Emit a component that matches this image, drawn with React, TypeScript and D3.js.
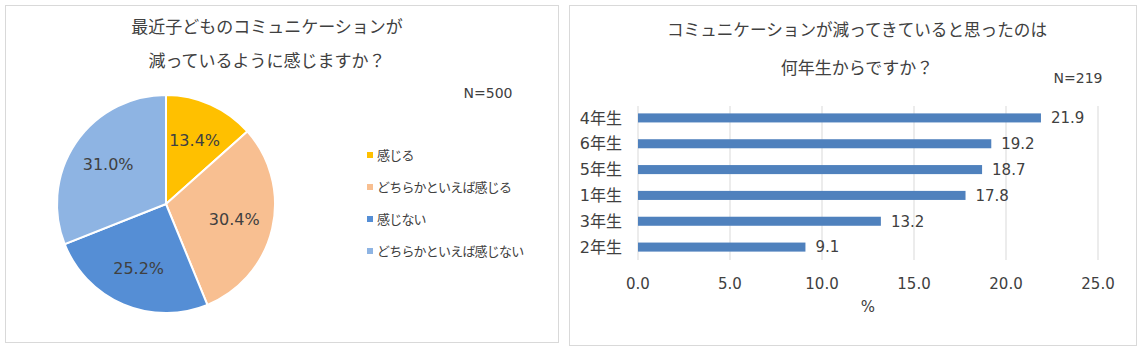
import React from "react";
import * as d3 from "d3";

const pieCategories = ["感じる", "どちらかといえば感じる", "感じない", "どちらかといえば感じない"];
const pieValues = [13.4, 30.4, 25.2, 31.0];
const pieColors = ["#FFC000", "#F8BF91", "#558ED5", "#8EB4E3"];

const barCategories = ["4年生", "6年生", "5年生", "1年生", "3年生", "2年生"];
const barValues = [21.9, 19.2, 18.7, 17.8, 13.2, 9.1];
const barTicks = [0, 5, 10, 15, 20, 25];

const FONT = "'Noto Sans CJK JP', 'Noto Sans', sans-serif";
const NUMFONT = "'DejaVu Sans', 'Noto Sans CJK JP', sans-serif";
const TXT = "#404040";

export default function App() {
  const cx = 166, cy = 204, R = 109;
  const pie = d3.pie<number>().sort(null).value((d) => d)(pieValues);
  const arc = d3.arc<d3.PieArcDatum<number>>().innerRadius(0).outerRadius(R);
  const labelArc = d3.arc<d3.PieArcDatum<number>>().innerRadius(70).outerRadius(70);

  const x = d3.scaleLinear().domain([0, 25]).range([638, 1098]);
  const y = d3.scaleBand().domain(barCategories).range([105, 260]).paddingInner(0.65).paddingOuter(0.325);

  return (
    <svg width={1142} height={352} style={{ position: "absolute", left: 0, top: 0, background: "#fff" }} fontFamily={FONT}>
      <rect x={0} y={0} width={1142} height={352} fill="#fff" />
      {/* left panel */}
      <rect x={5.5} y={5.5} width={553} height={337} fill="#fff" stroke="#d9d9d9" />
      <text x={267} y={27} dy="0.35em" textAnchor="middle" fontSize={17} fill={TXT}>最近子どものコミュニケーションが</text>
      <text x={267} y={61} dy="0.35em" textAnchor="middle" fontSize={17} fill={TXT}>減っているように感じますか？</text>
      <text x={488} y={93} dy="0.35em" textAnchor="middle" fontSize={14} fontFamily={NUMFONT} fill={TXT}>N=500</text>
      <g transform={`translate(${cx},${cy})`}>
        {pie.map((p, i) => (
          <path key={i} d={arc(p) || ""} fill={pieColors[i]} stroke="#fff" strokeWidth={2} />
        ))}
        {pie.map((p, i) => {
          const [lx, ly] = labelArc.centroid(p);
          return (
            <text key={i} x={lx} y={ly} dy="0.35em" textAnchor="middle" fontSize={16} fontFamily={NUMFONT} fill={TXT}>
              {pieValues[i].toFixed(1)}%
            </text>
          );
        })}
      </g>
      {pieCategories.map((c, i) => (
        <g key={c} transform={`translate(367,${155 + i * 32})`}>
          <rect x={0} y={-3} width={6} height={6} fill={pieColors[i]} />
          <text x={10} y={0} dy="0.35em" fontSize={13} letterSpacing={-0.8} fill={TXT}>{c}</text>
        </g>
      ))}

      {/* right panel */}
      <rect x={569.5} y={5.5} width={567} height={340} fill="#fff" stroke="#d9d9d9" />
      <text x={857} y={30} dy="0.35em" textAnchor="middle" fontSize={16.6} fill={TXT}>コミュニケーションが減ってきていると思ったのは</text>
      <text x={857} y={68} dy="0.35em" textAnchor="middle" fontSize={17} fill={TXT}>何年生からですか？</text>
      <text x={1078} y={78} dy="0.35em" textAnchor="middle" fontSize={14} fontFamily={NUMFONT} fill={TXT}>N=219</text>
      {barTicks.map((t) => (
        <g key={t}>
          <line x1={x(t)} x2={x(t)} y1={106} y2={260} stroke="#d9d9d9" strokeWidth={1} />
          <text x={x(t)} y={284} dy="0.35em" textAnchor="middle" fontSize={15} fontFamily={NUMFONT} fill={TXT}>{t.toFixed(1)}</text>
        </g>
      ))}
      {barCategories.map((c, i) => (
        <g key={c}>
          <rect x={x(0)} y={y(c)!} width={x(barValues[i]) - x(0)} height={y.bandwidth()} fill="#4F81BD" />
          <text x={622} y={y(c)! + y.bandwidth() / 2} dy="0.35em" textAnchor="end" fontSize={16} fontFamily={NUMFONT} fill={TXT}>{c}</text>
          <text x={x(barValues[i]) + 10} y={y(c)! + y.bandwidth() / 2} dy="0.35em" textAnchor="start" fontSize={15} fontFamily={NUMFONT} fill={TXT}>{barValues[i].toFixed(1)}</text>
        </g>
      ))}
      <text x={868} y={307} dy="0.35em" textAnchor="middle" fontSize={15} fontFamily={NUMFONT} fill={TXT}>%</text>
    </svg>
  );
}
